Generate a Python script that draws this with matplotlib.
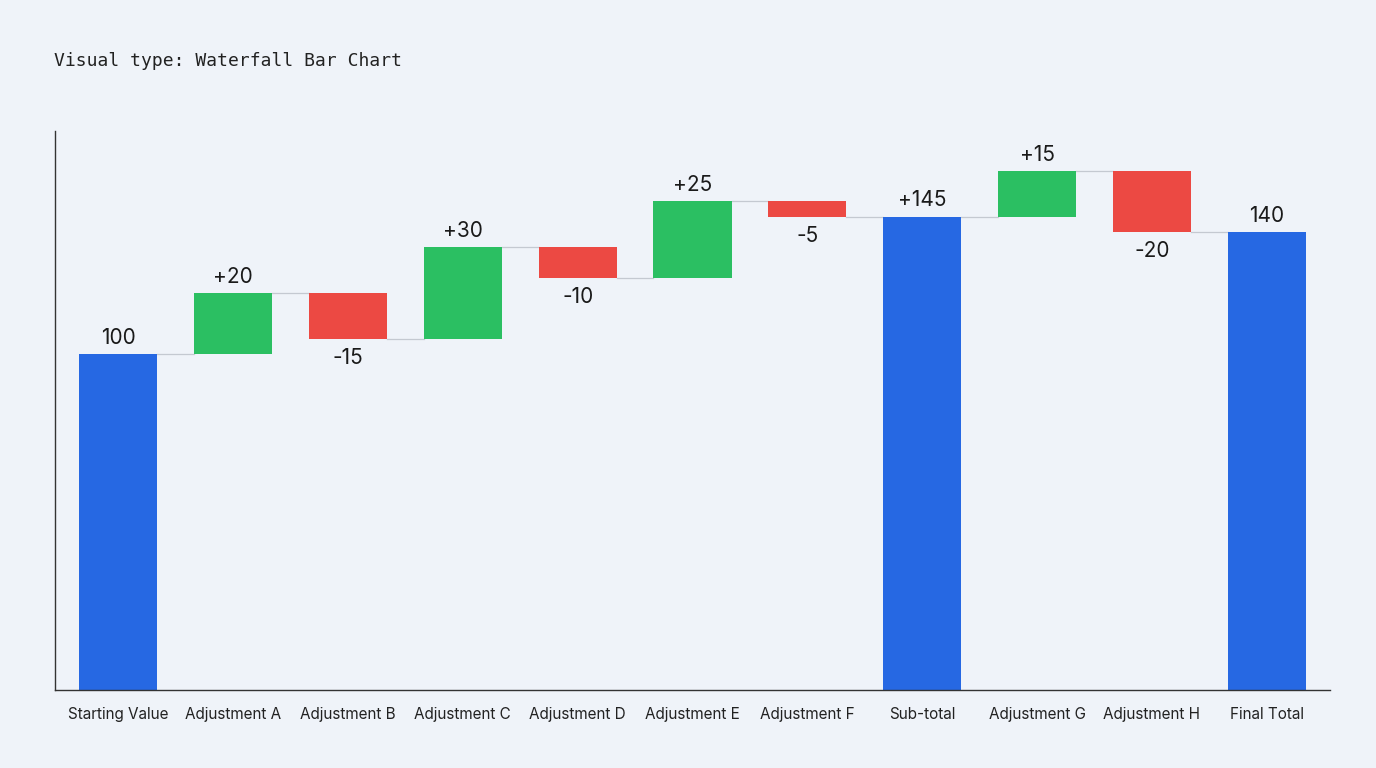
import matplotlib.pyplot as plt

categories = ['Starting Value', 'Adjustment A', 'Adjustment B', 'Adjustment C', 'Adjustment D',
              'Adjustment E', 'Adjustment F', 'Sub-total', 'Adjustment G', 'Adjustment H', 'Final Total']
values = [100, 20, -15, 30, -10, 25, -5, 145, 15, -20, 140]
kinds = ['total', 'delta', 'delta', 'delta', 'delta', 'delta', 'delta', 'total', 'delta', 'delta', 'total']
labels = ['100', '+20', '-15', '+30', '-10', '+25', '-5', '+145', '+15', '-20', '140']

BLUE, GREEN, RED = '#2668e3', '#2bbf62', '#ec4943'
BG = '#eff3f9'
YMIN, YMAX = -10, 173

plt.rcParams['font.family'] = ['Inter', 'DejaVu Sans']
fig = plt.figure(figsize=(13.76, 7.68), dpi=100, facecolor=BG)
ax = fig.add_axes([55 / 1376, 1 - 690 / 768, 1275 / 1376, 559 / 768], facecolor=BG)

running = 0
prev_level = None
w = 0.68
for i, (v, k, lab) in enumerate(zip(values, kinds, labels)):
    if k == 'total':
        bottom, top = YMIN, v
        color = BLUE
        running = v
        level = v
    else:
        start = running
        running += v
        bottom, top = min(start, running), max(start, running)
        color = GREEN if v > 0 else RED
        level = running
    ax.bar(i, top - bottom, bottom=bottom, width=w, color=color, zorder=2)
    if prev_level is not None:
        ax.plot([i - 1 + w / 2, i - w / 2], [prev_level, prev_level if k == 'delta' else prev_level],
                color='#c4c9d1', lw=0.9, zorder=1)
    prev_level = level
    if k == 'delta' and v < 0:
        ax.text(i, bottom - 3, lab, ha='center', va='top', fontsize=15, color='#1a1a1a')
    else:
        ax.text(i, top + 2, lab, ha='center', va='bottom', fontsize=15, color='#1a1a1a')

ax.set_xlim(-0.55, len(categories) - 0.45)
ax.set_ylim(YMIN, YMAX)
ax.set_xticks(range(len(categories)))
ax.set_xticklabels(categories, fontsize=11, color='#222222')
ax.tick_params(axis='x', length=0, pad=12)
ax.set_yticks([])
for s in ['top', 'right']:
    ax.spines[s].set_visible(False)
for s in ['left', 'bottom']:
    ax.spines[s].set_color('#333333')
    ax.spines[s].set_linewidth(1)

fig.text(54 / 1376, 1 - 61 / 768, 'Visual type: Waterfall Bar Chart', family='DejaVu Sans Mono',
         fontsize=13, va='center', color='#222222')

fig.savefig('out.png', dpi=100, facecolor=BG)
